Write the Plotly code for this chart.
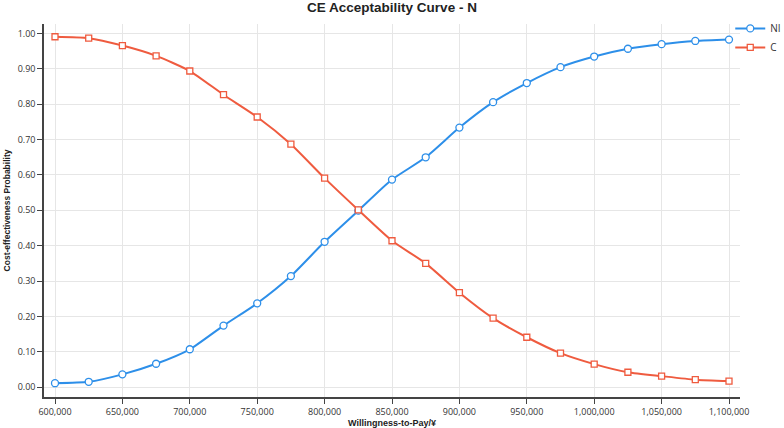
import plotly.graph_objects as go

wtp = [600000, 625000, 650000, 675000, 700000, 725000, 750000, 775000, 800000,
       825000, 850000, 875000, 900000, 925000, 950000, 975000, 1000000,
       1025000, 1050000, 1075000, 1100000]

ni_prob = [0.011, 0.015, 0.036, 0.066, 0.107, 0.174, 0.237, 0.314, 0.411,
           0.499, 0.587, 0.650, 0.734, 0.806, 0.860, 0.905, 0.935,
           0.957, 0.970, 0.979, 0.983]

c_prob = [0.991, 0.987, 0.966, 0.937, 0.894, 0.827, 0.764, 0.687, 0.591,
          0.501, 0.414, 0.350, 0.267, 0.195, 0.141, 0.096, 0.065,
          0.042, 0.031, 0.021, 0.017]

blue = "#2d8fe9"
red = "#ef5b3f"

fig = go.Figure()

fig.add_trace(go.Scatter(
    x=wtp, y=ni_prob, name="NI",
    mode="lines+markers",
    line=dict(color=blue, width=2, shape="spline", smoothing=0.6),
    marker=dict(symbol="circle", size=7, color="white", line=dict(color=blue, width=1.3)),
))

fig.add_trace(go.Scatter(
    x=wtp, y=c_prob, name="C",
    mode="lines+markers",
    line=dict(color=red, width=2, shape="spline", smoothing=0.6),
    marker=dict(symbol="square", size=6, color="white", line=dict(color=red, width=1.3)),
))

fig.update_layout(
    width=784, height=428,
    margin=dict(l=44, r=44, t=24, b=31, autoexpand=False),
    paper_bgcolor="white",
    plot_bgcolor="white",
    font=dict(family="Open Sans, sans-serif", color="#333333", size=9),
    title=dict(text="<b>CE Acceptability Curve - N</b>",
               font=dict(family="Liberation Sans, Arial", size=13.5, color="#222222"),
               x=0.5, xanchor="center", y=0.995, yanchor="top"),
    legend=dict(x=0.986, xanchor="left", y=1.027, yanchor="top",
                bgcolor="rgba(0,0,0,0)",
                font=dict(size=10, color="#333333"),
                itemwidth=30),
)

fig.update_xaxes(
    range=[591840, 1108160],
    tick0=600000, dtick=50000, tickformat=",d",
    showgrid=True, gridcolor="#e6e6e6", gridwidth=1,
    showline=True, linecolor="#444444", linewidth=1.5,
    ticks="outside", ticklen=5, tickcolor="#444444",
    zeroline=False, automargin=False,
    title=dict(text="<b>Willingness-to-Pay/¥</b>", standoff=4,
               font=dict(family="Liberation Sans, Arial", size=9, color="#222222")),
)

fig.update_yaxes(
    range=[-0.028, 1.027],
    tick0=0, dtick=0.1, tickformat=".2f",
    showgrid=True, gridcolor="#e6e6e6", gridwidth=1,
    showline=True, linecolor="#444444", linewidth=1.5,
    ticks="outside", ticklen=5, tickcolor="#444444",
    zeroline=False, automargin=False,
    title=dict(text="<b>Cost-effectiveness Probability</b>", standoff=6,
               font=dict(family="Liberation Sans, Arial", size=8.5, color="#222222")),
)

fig.write_html("out.html", config={"displayModeBar": False},
               post_script="document.body.style.margin='0';")
